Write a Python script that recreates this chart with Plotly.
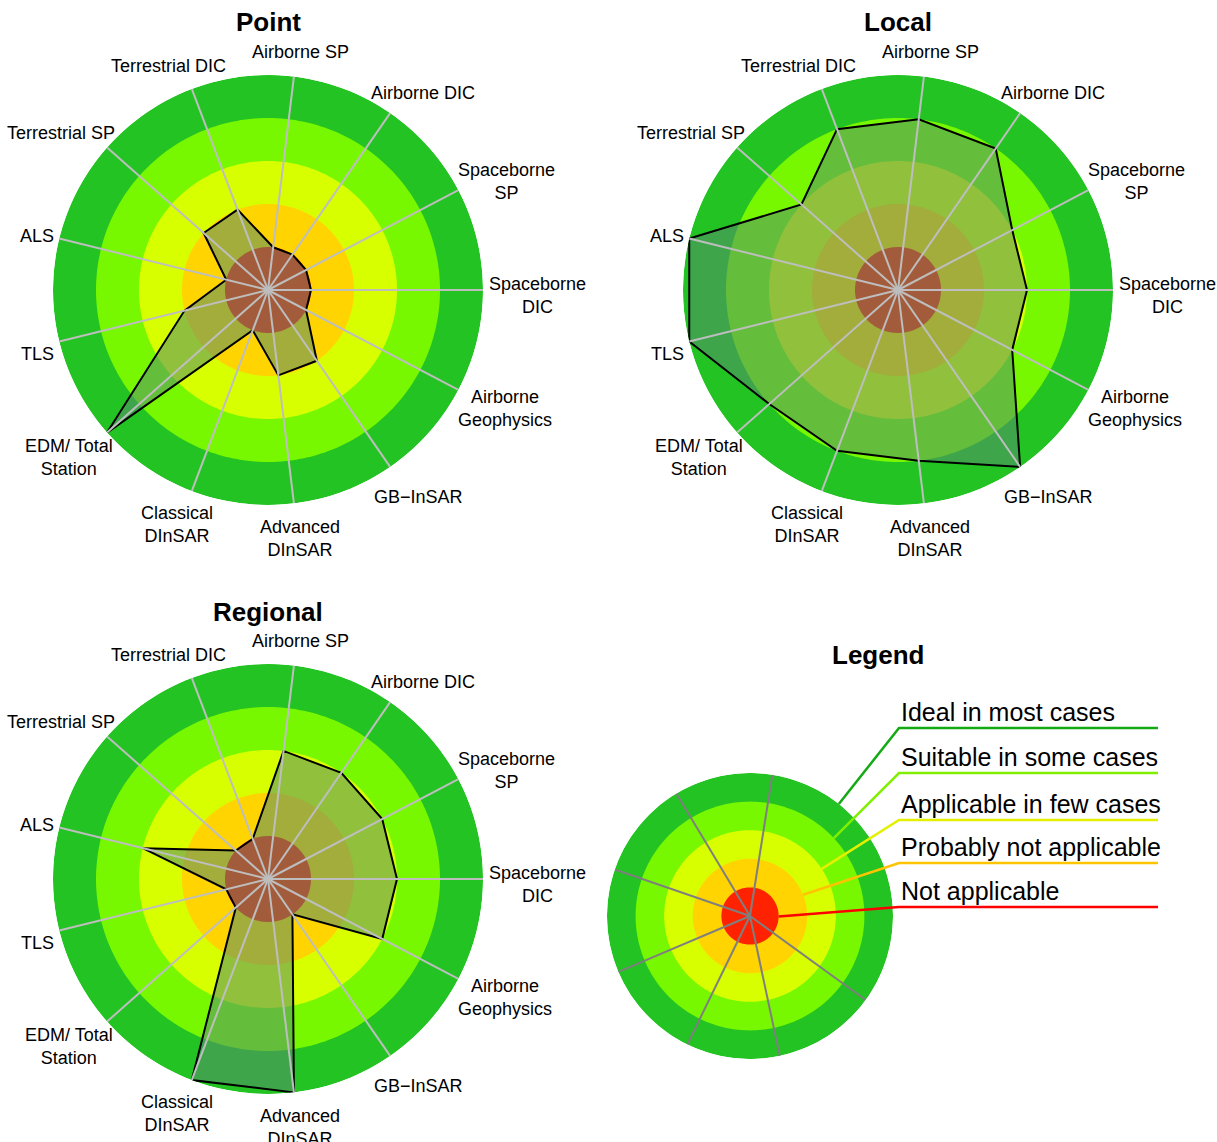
import numpy as np
import plotly.graph_objects as go

W, H = 1217, 1142
FONT = "Liberation Sans, Arial, sans-serif"

# ---------------- data ----------------
criteria = ["Spaceborne<br>DIC", "Spaceborne<br>SP", "Airborne DIC", "Airborne SP",
            "Terrestrial DIC", "Terrestrial SP", "ALS", "TLS", "EDM/ Total<br>Station",
            "Classical<br>DInSAR", "Advanced<br>DInSAR", "GB\u2212InSAR", "Airborne<br>Geophysics"]
point_scores = [1, 1, 1, 1, 2, 2, 1, 2, 5, 1, 2, 2, 1]
local_scores = [3, 3, 4, 4, 4, 3, 5, 5, 4, 4, 4, 5, 3]
regional_scores = [3, 3, 3, 3, 1, 1, 3, 1, 1, 5, 5, 1, 3]
panel_titles = ["Point", "Local", "Regional", "Legend"]

levels = [1, 2, 3, 4, 5]
level_colors = ["#FF2200", "#FFD400", "#D8FF00", "#78F800", "#22C322"]
level_names = ["Not applicable", "Probably not applicable", "Applicable in few cases",
               "Suitable in some cases", "Ideal in most cases"]
leader_colors = ["#FF0000", "#FFC400", "#E4F000", "#80F000", "#14AA14"]
legend_spoke_angles = [81, 121, 161, 203, 244, 282, 324]

# ---------------- geometry (pixels) ----------------
panels = {  # subplot name: (cx, cy, R)
    "polar": (268, 290, 215),
    "polar2": (898, 290, 215),
    "polar3": (268, 879, 215),
    "polar4": (750, 916, 143),
}
n = len(criteria)
angles = [i * 360.0 / n for i in range(n)]
LABEL_SIZE = 18

# Arial / Liberation Sans advance widths (per 1000 em)
CW = {" ": 278, "A": 667, "B": 667, "C": 722, "D": 722, "E": 667, "G": 778, "I": 278, "L": 556,
      "M": 833, "N": 722, "P": 667, "R": 722, "S": 667, "T": 611, "/": 278, "\u2212": 584,
      "a": 556, "b": 556, "c": 500, "d": 556, "e": 556, "g": 556, "h": 556, "i": 222, "l": 222,
      "n": 556, "o": 556, "p": 556, "r": 333, "s": 500, "t": 278, "y": 500, "m": 833}


def text_w(s, size):
    return max(sum(CW.get(ch, 556) for ch in line) for line in s.split("<br>")) / 1000.0 * size


def domain(cx, cy, R):
    return dict(x=[(cx - R) / W, (cx + R) / W], y=[1 - (cy + R) / H, 1 - (cy - R) / H])


def paper(x, y):
    return x / W, 1 - y / H


fig = go.Figure()
circle_theta = np.linspace(0, 360, 241)


def add_rings(sub):
    for lvl, col in sorted(zip(levels, level_colors), reverse=True):
        fig.add_trace(go.Scatterpolar(r=[lvl] * len(circle_theta), theta=circle_theta, mode="lines",
                                      fill="toself", fillcolor=col, line=dict(width=0, color=col),
                                      hoverinfo="skip", subplot=sub))


def add_spokes(sub, spoke_angles, color):
    r, th = [], []
    for a in spoke_angles:
        r += [0, max(levels), None]
        th += [a, a, None]
    fig.add_trace(go.Scatterpolar(r=r, theta=th, mode="lines", line=dict(color=color, width=2),
                                  hoverinfo="skip", subplot=sub))


for sub, scores in zip(["polar", "polar2", "polar3"], [point_scores, local_scores, regional_scores]):
    add_rings(sub)
    fig.add_trace(go.Scatterpolar(r=scores + [scores[0]], theta=angles + [angles[0]], mode="lines",
                                  fill="toself", fillcolor="rgba(85,140,110,0.55)",
                                  line=dict(color="black", width=2), subplot=sub))
    add_spokes(sub, angles, "#BEBEBE")

add_rings("polar4")
add_spokes("polar4", legend_spoke_angles, "#7F7F7F")

layout = dict(width=W, height=H, margin=dict(l=0, r=0, t=0, b=0), showlegend=False,
              paper_bgcolor="white", font=dict(family=FONT, color="black"))
for sub, (cx, cy, R) in panels.items():
    layout[sub] = dict(
        domain=domain(cx, cy, R), bgcolor="rgba(0,0,0,0)",
        radialaxis=dict(visible=False, range=[0, max(levels)]),
        angularaxis=dict(thetaunit="degrees", rotation=0, direction="counterclockwise",
                         showticklabels=False, ticks="", showline=False, showgrid=False),
    )
fig.update_layout(**layout)

# axis labels, centred like the original (placed around each radar)
for sub in ["polar", "polar2", "polar3"]:
    cx, cy, R = panels[sub]
    for lab, a in zip(criteria, angles):
        c, s = np.cos(np.radians(a)), np.sin(np.radians(a))
        w = text_w(lab, LABEL_SIZE)
        px = cx + (R + 6) * c + 0.5 * w * c
        py = cy - (R + 30) * s + 5
        x, y = paper(px, py)
        fig.add_annotation(text=lab, x=x, y=y, xref="paper", yref="paper", showarrow=False,
                           xanchor="center", yanchor="middle", align="center",
                           font=dict(size=LABEL_SIZE, family=FONT, color="black"))

# titles
title_pos = [(268, 22), (898, 22), (268, 612), (878, 655)]
for t, (x, y) in zip(panel_titles, title_pos):
    px, py = paper(x, y)
    fig.add_annotation(text="<b>%s</b>" % t, x=px, y=py, xref="paper", yref="paper",
                       showarrow=False, xanchor="center", yanchor="middle",
                       font=dict(size=26, family=FONT, color="black"))

# legend labels and leader lines
lcx, lcy, lR = panels["polar4"]
leader_angles = [-1, 21.8, 33.3, 42.9, 51.6]
line_y = [907, 863, 820, 773, 728]
x_start, x_end = 899, 1158
for lvl, name, col, ang, ly in zip(levels, level_names, leader_colors, leader_angles, line_y):
    rr = lvl * lR / max(levels)
    ex = lcx + rr * np.cos(np.radians(ang))
    ey = lcy - rr * np.sin(np.radians(ang))
    p0 = paper(ex, ey)
    p1 = paper(x_start, ly)
    p2 = paper(x_end, ly)
    fig.add_shape(type="path", xref="paper", yref="paper",
                  path="M %f %f L %f %f L %f %f" % (p0[0], p0[1], p1[0], p1[1], p2[0], p2[1]),
                  line=dict(color=col, width=2.5))
    tx, ty = paper(x_start, ly - 16)
    fig.add_annotation(text=name, x=tx, y=ty, xref="paper", yref="paper", showarrow=False,
                       xanchor="left", yanchor="middle", font=dict(size=25, family=FONT, color="black"))

fig.write_html("out.html", config={"displayModeBar": False},
               post_script="document.body.style.margin='0px';")
